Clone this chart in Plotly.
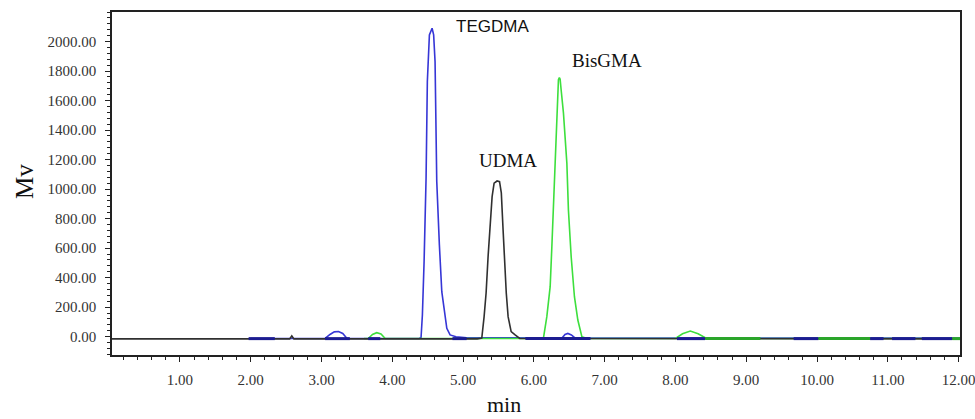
import plotly.graph_objects as go

# ---- data (time in min, signal in mV) ----
time_black = [0.04, 2.55, 2.58, 2.61, 5.20, 5.264, 5.297, 5.325, 5.353, 5.382, 5.410, 5.438,
              5.48, 5.515, 5.540, 5.565, 5.585, 5.610, 5.636, 5.679, 5.735, 5.80, 12.02]
mv_black = [-15, -15, 5, -15, -15, -10, 136, 296, 542, 771, 949, 1040,
            1055, 1050, 974, 723, 520, 296, 136, 34, 12, -12, -15]

time_blue = [2.00, 3.05, 3.12, 3.18, 3.24, 3.30, 3.36, 4.38, 4.406, 4.425, 4.449, 4.477,
             4.495, 4.524, 4.562, 4.584, 4.604, 4.628, 4.665, 4.699, 4.731, 4.770, 4.816,
             4.90, 5.05, 6.40, 6.44, 6.48, 6.53, 6.58, 12.02]
mv_blue = [-12, -12, 15, 33, 35, 22, -12, -12, -5, 147, 508, 1074,
           1729, 2045, 2090, 2045, 1864, 1051, 622, 305, 193, 57, 12,
           0, -8, -8, 15, 22, 12, -8, -10]

time_green = [3.60, 3.66, 3.72, 3.78, 3.84, 3.90, 6.10, 6.135, 6.183, 6.230, 6.254, 6.276,
              6.300, 6.324, 6.347, 6.36, 6.371, 6.385, 6.418, 6.466, 6.488, 6.527, 6.573,
              6.621, 6.678, 6.75, 8.00, 8.10, 8.21, 8.32, 8.44, 12.02]
mv_green = [-12, -12, 15, 27, 18, -12, -12, -10, 136, 339, 610, 904,
            1243, 1537, 1741, 1755, 1745, 1673, 1515, 1176, 858, 542, 271,
            113, 0, -12, -12, 20, 38, 20, -12, -12]

# integration baseline marks
navy_start = [1.97, 3.05, 3.66, 4.85, 5.88, 8.02, 9.67, 10.75, 11.06, 11.48]
navy_end = [2.34, 3.40, 3.83, 5.05, 6.80, 8.42, 10.02, 10.94, 11.39, 11.91]
green_seg_start = [8.42, 10.02, 11.91]
green_seg_end = [9.20, 10.75, 12.02]
mark_level = -13

peak_names = ["TEGDMA", "UDMA", "BisGMA"]
peak_label_x = [5.42, 5.63, 7.04]
peak_label_y = [2100, 1191, 1869]

y_ticks = [0, 200, 400, 600, 800, 1000, 1200, 1400, 1600, 1800, 2000]
x_ticks = [1, 2, 3, 4, 5, 6, 7, 8, 9, 10, 11, 12]


def segs(starts, ends, level):
    xs, ys = [], []
    for a, b in zip(starts, ends):
        xs += [a, b, None]
        ys += [level, level, None]
    return xs, ys


fig = go.Figure()
fig.add_trace(go.Scatter(x=time_blue, y=mv_blue, mode="lines",
                         line=dict(color="#3636d6", width=1.6), showlegend=False))
fig.add_trace(go.Scatter(x=time_green, y=mv_green, mode="lines",
                         line=dict(color="#3ddf3d", width=1.6), showlegend=False))
fig.add_trace(go.Scatter(x=time_black, y=mv_black, mode="lines",
                         line=dict(color="#303030", width=1.6), showlegend=False))
nx, ny = segs(navy_start, navy_end, mark_level)
fig.add_trace(go.Scatter(x=nx, y=ny, mode="lines",
                         line=dict(color="#1c1c90", width=3), showlegend=False))
gx, gy = segs(green_seg_start, green_seg_end, mark_level)
fig.add_trace(go.Scatter(x=gx, y=gy, mode="lines",
                         line=dict(color="#2aa52a", width=3), showlegend=False))

serif = "Liberation Serif, Times New Roman, serif"
for name, px, py in zip(peak_names, peak_label_x, peak_label_y):
    fam = "Liberation Sans, Arial, sans-serif" if name == "TEGDMA" else serif
    sz = 17 if name == "TEGDMA" else 19
    fig.add_annotation(x=px, y=py, text=name, showarrow=False,
                       font=dict(family=fam, size=sz, color="#111"))

fig.add_annotation(xref="paper", yref="paper", x=-0.104, y=0.507, text="Mv",
                   textangle=-90, showarrow=False, xanchor="center", yanchor="middle",
                   font=dict(family=serif, size=25, color="#111"))
fig.add_annotation(xref="x", yref="paper", x=5.58, y=-0.143, text="min",
                   showarrow=False, xanchor="center", yanchor="middle",
                   font=dict(family=serif, size=22, color="#111"))

fig.update_xaxes(range=[0.04, 12.02], tickvals=x_ticks, automargin=False,
                 ticktext=[f"{v:.2f}" for v in x_ticks], ticklabeloverflow="allow",
                 ticks="outside", ticklen=5, tickwidth=1.2, tickcolor="#222",
                 minor=dict(dtick=0.2, tick0=0, ticks="outside", ticklen=3, tickcolor="#222"),
                 showline=True, linecolor="#222", linewidth=1.5, mirror=True,
                 showgrid=False, zeroline=False, ticklabelstandoff=5,
                 tickfont=dict(family=serif, size=15, color="#333"))
fig.update_yaxes(range=[-124, 2200], tickvals=y_ticks, automargin=False,
                 ticktext=[f"{v:.2f}" for v in y_ticks],
                 ticks="outside", ticklen=5, tickwidth=1.2, tickcolor="#222",
                 minor=dict(dtick=40, tick0=0, ticks="outside", ticklen=3, tickcolor="#222"),
                 showline=True, linecolor="#222", linewidth=1.5, mirror=True,
                 showgrid=False, zeroline=False, ticklabelstandoff=6,
                 tickfont=dict(family=serif, size=15, color="#333"))

fig.update_layout(width=975, height=419, margin=dict(l=112, r=15, t=12, b=64),
                  plot_bgcolor="white", paper_bgcolor="white")

fig.write_html("out.html")
